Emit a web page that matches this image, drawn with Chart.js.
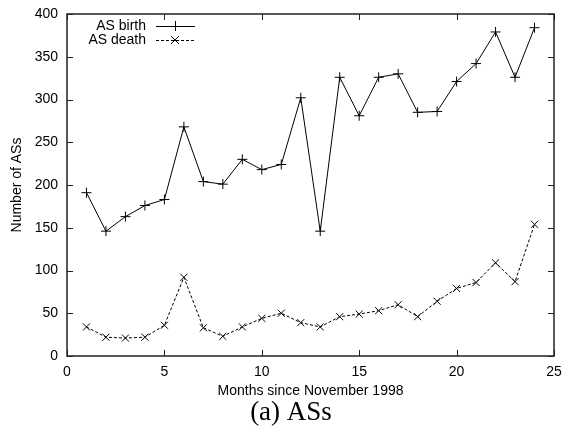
<!DOCTYPE html>
<html>
<head>
<meta charset="utf-8">
<script src="https://cdn.jsdelivr.net/npm/chart.js@4"></script>
<style>
html,body{margin:0;padding:0;background:#fff;}
#wrap{width:563px;height:426px;}
</style>
</head>
<body>
<div id="wrap"><canvas id="c" width="563" height="426"></canvas></div>
<script>
const months = [1,2,3,4,5,6,7,8,9,10,11,12,13,14,15,16,17,18,19,20,21,22,23,24];
const asBirth = [191,146,163,176,183,268,204,201,230,218,224,302,146,326,281,326,330,285,286,321,342,379,326,384];
const asDeath = [34,22,21,22,36,92,33,23,34,44,50,39,34,46,49,53,60,46,64,79,86,109,87,154];
const xTicks = [0,5,10,15,20,25];
const yTicks = [0,50,100,150,200,250,300,350,400];
const legendLabels = ['AS birth','AS death'];
const xTitle = 'Months since November 1998';
const yTitle = 'Number of ASs';
const caption = '(a) ASs';

const FONT = '"Liberation Sans", Arial, sans-serif';

const decor = {
  id: 'decor',
  afterDraw(chart) {
    const ctx = chart.ctx;
    const a = chart.chartArea;
    const xs = chart.scales.x, ys = chart.scales.y;
    ctx.save();
    ctx.strokeStyle = '#222';
    ctx.lineWidth = 1.5;
    ctx.strokeRect(a.left, a.top, a.right - a.left, a.bottom - a.top);
    ctx.lineWidth = 1;
    const tl = 6;
    ctx.beginPath();
    xTicks.forEach(v => {
      const px = Math.round(xs.getPixelForValue(v)) + 0.5;
      ctx.moveTo(px, a.bottom); ctx.lineTo(px, a.bottom - tl);
      ctx.moveTo(px, a.top); ctx.lineTo(px, a.top + tl);
    });
    yTicks.forEach(v => {
      const py = Math.round(ys.getPixelForValue(v)) + 0.5;
      ctx.moveTo(a.left, py); ctx.lineTo(a.left + tl, py);
      ctx.moveTo(a.right, py); ctx.lineTo(a.right - tl, py);
    });
    ctx.stroke();
    ctx.fillStyle = '#000';
    ctx.font = '14px ' + FONT;
    ctx.textAlign = 'center';
    ctx.textBaseline = 'middle';
    ctx.fillText(xTitle, (a.left + a.right) / 2, 391);
    ctx.save();
    ctx.translate(17, (a.top + a.bottom) / 2);
    ctx.rotate(-Math.PI / 2);
    ctx.fillText(yTitle, 0, 0);
    ctx.restore();
    ctx.font = '27px "Liberation Serif", "Times New Roman", serif';
    ctx.fillText(caption, 291, 413);
    ctx.font = '14px ' + FONT;
    ctx.textAlign = 'right';
    const rows = [26, 40];
    rows.forEach((y, i) => {
      ctx.fillStyle = '#000';
      ctx.fillText(legendLabels[i], 146, y);
      ctx.strokeStyle = '#000';
      ctx.lineWidth = 1;
      ctx.setLineDash(i === 0 ? [] : [3, 2]);
      ctx.beginPath();
      ctx.moveTo(156, y + 0.5); ctx.lineTo(195, y + 0.5);
      ctx.stroke();
      ctx.setLineDash([]);
      ctx.beginPath();
      const cx = 175, r = 5;
      if (i === 0) {
        ctx.moveTo(cx - r, y + 0.5); ctx.lineTo(cx + r, y + 0.5);
        ctx.moveTo(cx + 0.5, y - r); ctx.lineTo(cx + 0.5, y + r);
      } else {
        const d = 4;
        ctx.moveTo(cx - d, y - d); ctx.lineTo(cx + d, y + d);
        ctx.moveTo(cx - d, y + d); ctx.lineTo(cx + d, y - d);
      }
      ctx.stroke();
    });
    ctx.restore();
  }
};

new Chart(document.getElementById('c'), {
  type: 'line',
  data: {
    datasets: [
      {
        label: legendLabels[0],
        data: months.map((m, i) => ({x: m, y: asBirth[i]})),
        borderColor: '#000', borderWidth: 1,
        pointStyle: 'cross', pointRadius: 5, pointBorderColor: '#000', pointBorderWidth: 1,
        pointBackgroundColor: '#000', tension: 0, fill: false
      },
      {
        label: legendLabels[1],
        data: months.map((m, i) => ({x: m, y: asDeath[i]})),
        borderColor: '#000', borderWidth: 1, borderDash: [3, 2],
        pointStyle: 'crossRot', pointRadius: 5, pointBorderColor: '#000', pointBorderWidth: 1,
        pointBackgroundColor: '#000', tension: 0, fill: false
      }
    ]
  },
  options: {
    responsive: false,
    animation: false,
    devicePixelRatio: 1,
    layout: {padding: {top: 14, right: 9, left: 0, bottom: 0}},
    plugins: {legend: {display: false}, tooltip: {enabled: false}},
    scales: {
      x: {
        type: 'linear', min: 0, max: 25,
        afterBuildTicks: s => { s.ticks = xTicks.map(v => ({value: v})); },
        afterFit: s => { s.height = 70; s.paddingLeft = 0; s.paddingRight = 0; },
        grid: {display: false, drawTicks: false},
        border: {display: false},
        ticks: {color: '#000', font: {family: FONT, size: 14}, padding: 8, maxRotation: 0}
      },
      y: {
        type: 'linear', min: 0, max: 400,
        afterBuildTicks: s => { s.ticks = yTicks.map(v => ({value: v})); },
        afterFit: s => { s.width = 67; s.paddingTop = 0; s.paddingBottom = 0; },
        grid: {display: false, drawTicks: false},
        border: {display: false},
        ticks: {color: '#000', font: {family: FONT, size: 14}, padding: 9}
      }
    }
  },
  plugins: [decor]
});
</script>
</body>
</html>
